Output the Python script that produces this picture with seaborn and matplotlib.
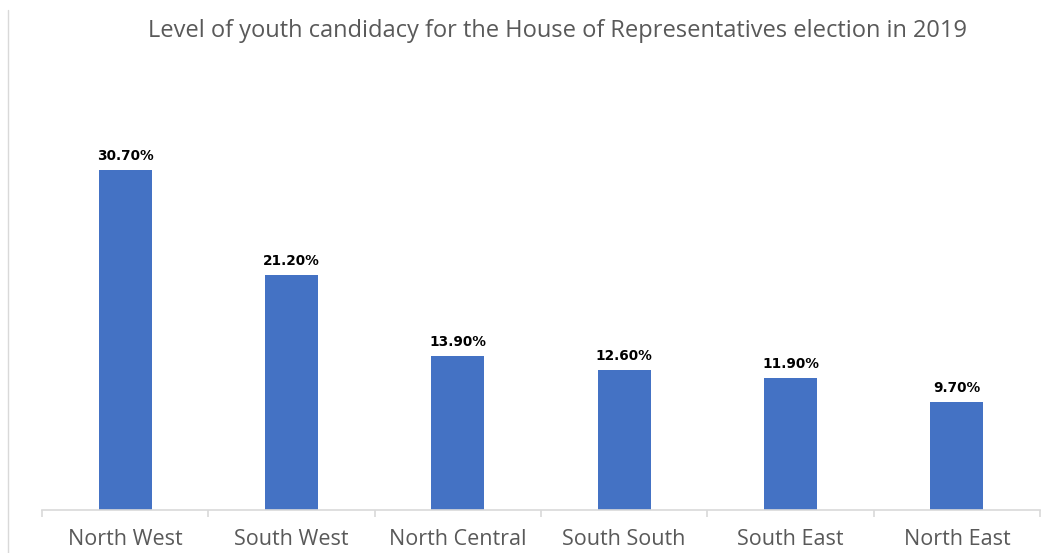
import matplotlib
matplotlib.use("Agg")
import matplotlib.pyplot as plt
import seaborn as sns
import pandas as pd
from matplotlib.lines import Line2D

# Data
regions = ['North West', 'South West', 'North Central', 'South South', 'South East', 'North East']
youth_pct = [30.7, 21.2, 13.9, 12.6, 11.9, 9.7]

df = pd.DataFrame({'region': regions, 'pct': youth_pct})

sns.set_style("white")
plt.rcParams['font.family'] = ['Open Sans', 'DejaVu Sans']

fig = plt.figure(figsize=(10.6, 5.53), dpi=100)
ax = fig.add_axes([42 / 1060, 1 - 510 / 553, 998 / 1060, 450 / 553])

sns.barplot(data=df, x='region', y='pct', color='#4472C4', saturation=1,
            width=0.32, linewidth=0, ax=ax)

for i, v in enumerate(df['pct']):
    ax.text(i, v + 0.65, f"{v:.2f}%", ha='center', va='bottom',
            fontsize=9.8, fontweight='bold', color='#000000', family='DejaVu Sans')

ax.set_xlim(-0.5, len(regions) - 0.5)
ax.set_ylim(0, 40.6)
ax.set_yticks([])
ax.set_xlabel('')
ax.set_ylabel('')

for s in ['top', 'right', 'left']:
    ax.spines[s].set_visible(False)
ax.spines['bottom'].set_color('#D9D9D9')
ax.spines['bottom'].set_linewidth(1.2)

ax.set_xticks(range(len(regions)))
ax.set_xticklabels(regions, fontsize=15.5, color='#595959')
ax.tick_params(axis='x', which='major', length=0, pad=14)
ax.set_xticks([i - 0.5 for i in range(len(regions) + 1)], minor=True)
ax.tick_params(axis='x', which='minor', bottom=True, length=5, color='#D9D9D9', width=1.2)

fig.text(557 / 1060, 1 - 31 / 553, "Level of youth candidacy for the House of Representatives election in 2019",
         ha='center', va='center', fontsize=17, color='#595959')

# faint chart-area border on the left
fig.add_artist(Line2D([8 / 1060, 8 / 1060], [0, 1 - 10 / 553], color='#D9D9D9', lw=1))

fig.savefig('out.png', dpi=100, facecolor='white')
